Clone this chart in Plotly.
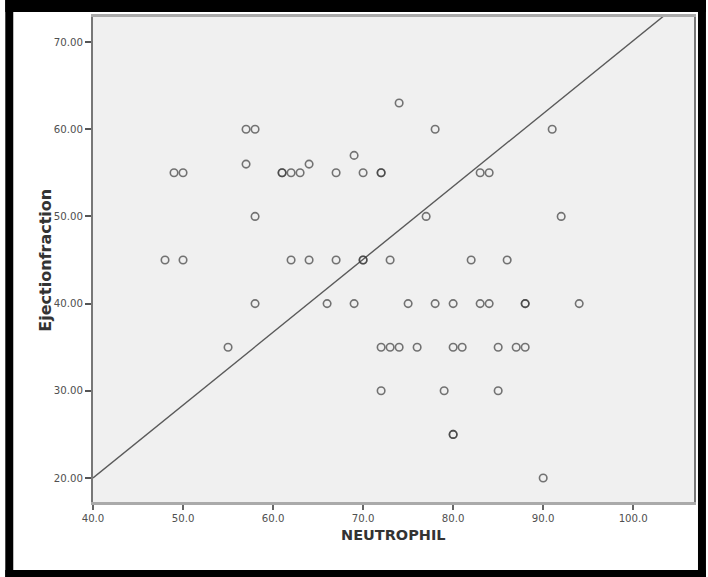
import plotly.graph_objects as go

# Data (NEUTROPHIL vs Ejectionfraction)
neutrophil = [49, 50, 61, 61, 62, 63, 64, 57, 57, 58, 58, 48, 50, 62, 64, 67,
              74, 78, 91, 69, 67, 70, 72, 72, 83, 84, 77, 92, 70, 70, 73, 82, 86,
              58, 66, 55, 69, 75, 78, 80, 83, 84, 88, 88, 94,
              72, 73, 74, 76, 80, 81, 85, 87, 88,
              72, 79, 85, 80, 80, 90]
ejection = [55, 55, 55, 55, 55, 55, 56, 56, 60, 60, 50, 45, 45, 45, 45, 45,
            63, 60, 60, 57, 55, 55, 55, 55, 55, 55, 50, 50, 45, 45, 45, 45, 45,
            40, 40, 35, 40, 40, 40, 40, 40, 40, 40, 40, 40,
            35, 35, 35, 35, 35, 35, 35, 35, 35,
            30, 30, 30, 25, 25, 20]

# Reference line (as drawn in the chart)
ref_line_x = [40.0, 106.75]
ref_line_y = [20.0, 75.8]

x_ticks = [40, 50, 60, 70, 80, 90, 100]
x_tick_labels = ["40.0", "50.0", "60.0", "70.0", "80.0", "90.0", "100.0"]
y_ticks = [20, 30, 40, 50, 60, 70]
y_tick_labels = ["20.00", "30.00", "40.00", "50.00", "60.00", "70.00"]

W, H = 708, 577
L, R, T, B = 93, 696, 17, 502  # plot area in pixels


def px(xp):
    return (xp - L) / (R - L)


def py(yp):
    return (B - yp) / (B - T)


fig = go.Figure()
fig.add_trace(go.Scatter(
    x=ref_line_x, y=ref_line_y, mode="lines",
    line=dict(color="#5a5a5a", width=1.4), hoverinfo="skip", showlegend=False))
fig.add_trace(go.Scatter(
    x=neutrophil, y=ejection, mode="markers",
    marker=dict(symbol="circle-open", size=7.5,
                line=dict(color="rgba(60,60,60,0.7)", width=1.6),
                color="rgba(60,60,60,0.7)"),
    showlegend=False))

font_tick = dict(family="DejaVu Sans, Verdana, sans-serif", size=10.2, color="#505050")

fig.update_layout(
    width=W, height=H,
    margin=dict(l=L, r=W - R, t=T, b=H - B),
    paper_bgcolor="white", plot_bgcolor="#f0f0f0",
    showlegend=False,
    xaxis=dict(range=[40, 106.75], tickvals=x_ticks, ticktext=x_tick_labels,
               showgrid=False, zeroline=False, showline=True, mirror=True,
               linecolor="#aaaaaa", linewidth=3, ticks="outside", ticklen=5,
               tickwidth=1.5, tickcolor="#666666", tickfont=font_tick),
    yaxis=dict(range=[17.25, 72.87], tickvals=y_ticks, ticktext=y_tick_labels,
               showgrid=False, zeroline=False, showline=True, mirror=True,
               linecolor="#777777", linewidth=2, ticks="outside", ticklen=6,
               tickwidth=2, tickcolor="#555555", tickfont=font_tick),
)

# Axis titles
fig.add_annotation(text="<b>NEUTROPHIL</b>", xref="paper", yref="paper",
                   x=px(395), y=py(545), showarrow=False,
                   font=dict(family="DejaVu Sans, Verdana, sans-serif", size=14.5, color="#333333"))
fig.add_annotation(text="<b>Ejectionfraction</b>", xref="paper", yref="paper",
                   x=px(33), y=py(260), showarrow=False, textangle=-90,
                   font=dict(family="DejaVu Sans, Verdana, sans-serif", size=16, color="#333333"))

# Outer black frame
frame = [(5, 0, 708, 12), (5, 0, 13, 577), (5, 570, 708, 577), (700, 0, 708, 577)]
for x0, y0, x1, y1 in frame:
    fig.add_shape(type="rect", xref="paper", yref="paper",
                  x0=px(x0), x1=px(x1), y0=py(y1), y1=py(y0),
                  fillcolor="black", line=dict(width=0), layer="above")

fig.write_html(
    "out.html",
    config={"displayModeBar": False},
    post_script="document.body.style.margin='0';document.body.style.padding='0';"
                "document.body.style.overflow='hidden';",
)
